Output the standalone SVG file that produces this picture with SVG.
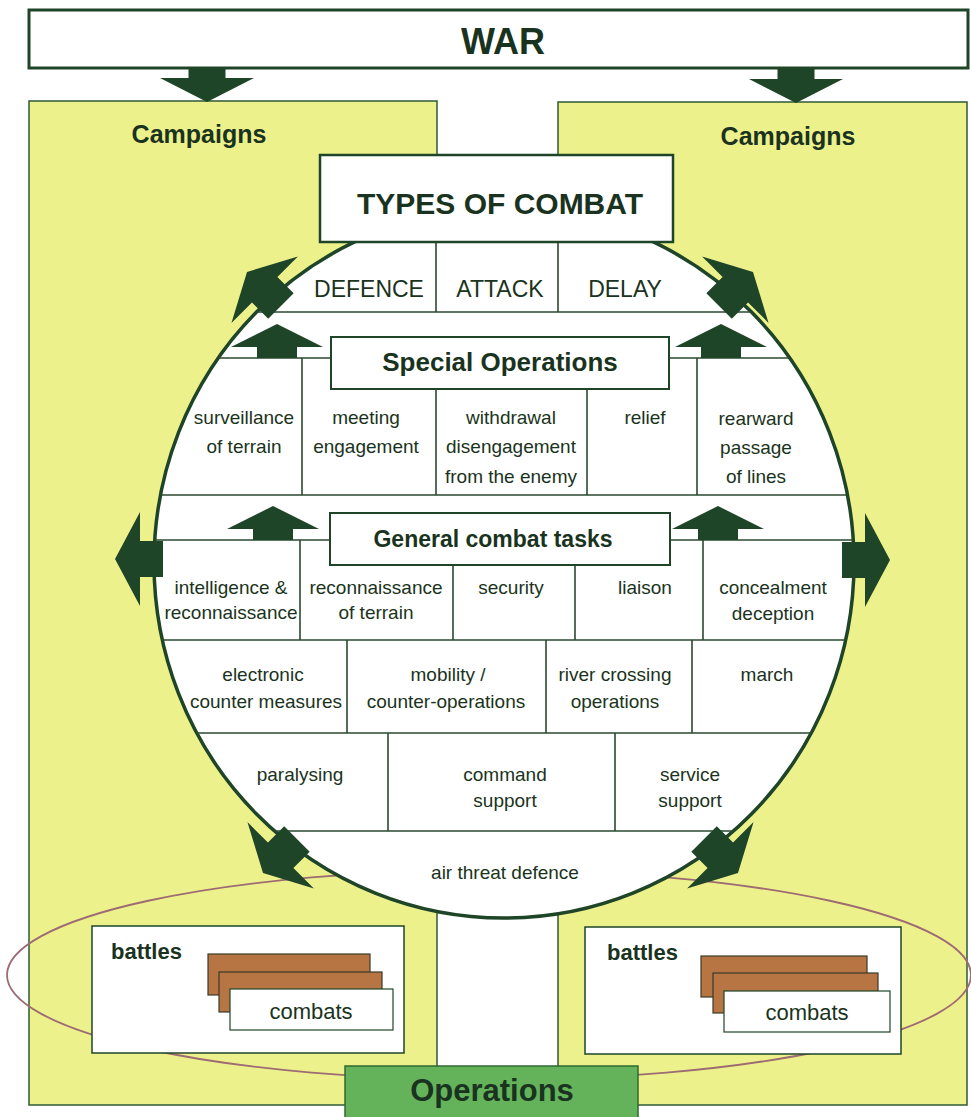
<svg xmlns="http://www.w3.org/2000/svg" width="971" height="1117" viewBox="0 0 971 1117">
<defs>
<style>
.t{font-family:"Liberation Sans",Arial,sans-serif;fill:#1a3320;text-anchor:middle}
.b{font-weight:bold}
.c{font-size:19px}
.ln{stroke:#2a4a30;stroke-width:1.6;fill:none}
.arr{fill:#1e4527}
.box{fill:#fff;stroke:#1e4527}
.panel{fill:#edf18c;stroke:#2f5a34;stroke-width:1.5}
.brown{fill:#b67542;stroke:#3a3a2a;stroke-width:1.2}
</style>
<clipPath id="cc"><ellipse cx="504" cy="563" rx="350" ry="355"/></clipPath>
<path id="oa" d="M0,0 L25,-47 L25,-18 L48,-18 L48,18 L25,18 L25,47 Z"/>
<path id="ua" d="M0,0 L46,23 L20,23 L20,34 L-20,34 L-20,23 L-46,23 Z"/>
<path id="da" d="M0,0 L-47,-24 L-18.5,-24 L-18.5,-34 L18.5,-34 L18.5,-24 L47,-24 Z"/>
</defs>
<rect width="971" height="1117" fill="#fff"/>

<g id="campaigns-left">
<rect class="panel" x="29" y="101" width="408" height="1004"/>
<text class="t b" x="199" y="143" font-size="25">Campaigns</text>
</g>
<g id="campaigns-right">
<rect class="panel" x="558" y="102" width="409" height="1003"/>
<text class="t b" x="788" y="145" font-size="25">Campaigns</text>
</g>

<g id="operations-ellipse">
<ellipse cx="489" cy="975" rx="482" ry="105" fill="none" stroke="#9c6b73" stroke-width="1.8"/>
</g>

<g id="combat-circle">
<ellipse cx="504" cy="563" rx="350" ry="355" fill="#fff" stroke="#1e4527" stroke-width="3.5"/>
<g clip-path="url(#cc)">
<path class="ln" d="M100,312H900 M100,358H900 M100,495H900 M100,540H900 M100,640H900 M100,733H900 M100,831H900"/>
<path class="ln" d="M436,242V312 M558,242V312 M302,358V495 M436,389V495 M587,389V495 M697,358V495 M300,540V640 M453,565V640 M575,565V640 M703,540V640 M347,640V733 M546,640V733 M692,640V733 M388,733V831 M615,733V831"/>
</g>
</g>

<g id="types-row">
<text class="t" x="369" y="297" font-size="23">DEFENCE</text>
<text class="t" x="500" y="297" font-size="23">ATTACK</text>
<text class="t" x="625" y="297" font-size="23">DELAY</text>
</g>

<g id="special-cells">
<text class="t c" x="244" y="424">surveillance</text>
<text class="t c" x="244" y="453">of terrain</text>
<text class="t c" x="366" y="424">meeting</text>
<text class="t c" x="366" y="453">engagement</text>
<text class="t c" x="511" y="424">withdrawal</text>
<text class="t c" x="511" y="453">disengagement</text>
<text class="t c" x="511" y="483">from the enemy</text>
<text class="t c" x="645" y="424">relief</text>
<text class="t c" x="756" y="425">rearward</text>
<text class="t c" x="756" y="454">passage</text>
<text class="t c" x="756" y="483">of lines</text>
</g>

<g id="general-cells">
<text class="t c" x="231" y="594">intelligence &amp;</text>
<text class="t c" x="231" y="619">reconnaissance</text>
<text class="t c" x="376" y="594">reconnaissance</text>
<text class="t c" x="376" y="619">of terrain</text>
<text class="t c" x="511" y="594">security</text>
<text class="t c" x="645" y="594">liaison</text>
<text class="t c" x="773" y="594">concealment</text>
<text class="t c" x="773" y="620">deception</text>
<text class="t c" x="263" y="681">electronic</text>
<text class="t c" x="266" y="708">counter measures</text>
<text class="t c" x="448" y="681">mobility /</text>
<text class="t c" x="446" y="708">counter-operations</text>
<text class="t c" x="615" y="681">river crossing</text>
<text class="t c" x="615" y="708">operations</text>
<text class="t c" x="767" y="681">march</text>
<text class="t c" x="300" y="781">paralysing</text>
<text class="t c" x="505" y="781">command</text>
<text class="t c" x="505" y="807">support</text>
<text class="t c" x="690" y="781">service</text>
<text class="t c" x="690" y="807">support</text>
<text class="t c" x="505" y="879">air threat defence</text>
</g>

<g id="types-of-combat">
<rect class="box" x="320" y="155" width="353" height="87" stroke-width="2.5"/>
<text class="t b" x="500" y="214" font-size="30">TYPES OF COMBAT</text>
</g>

<g id="special-operations">
<rect class="box" x="331" y="337" width="338" height="52" stroke-width="2"/>
<text class="t b" x="500" y="371" font-size="26">Special Operations</text>
</g>

<g id="general-combat-tasks">
<rect class="box" x="330" y="513" width="340" height="52" stroke-width="2"/>
<text class="t b" x="493" y="547" font-size="23">General combat tasks</text>
</g>

<g id="connectors">
<use href="#ua" class="arr" x="277" y="324"/>
<use href="#ua" class="arr" x="721" y="324"/>
<use href="#ua" class="arr" x="273" y="506"/>
<use href="#ua" class="arr" x="718" y="506"/>
<use href="#oa" class="arr" transform="translate(115,559)"/>
<use href="#oa" class="arr" transform="translate(890,560) rotate(180)"/>
<use href="#oa" class="arr" transform="translate(247,272) rotate(45)"/>
<use href="#oa" class="arr" transform="translate(753,272) rotate(135)"/>
<use href="#oa" class="arr" transform="translate(263,873) rotate(-45)"/>
<use href="#oa" class="arr" transform="translate(738,873) rotate(-135)"/>
<use href="#da" class="arr" x="207" y="102"/>
<use href="#da" class="arr" x="796" y="103"/>
</g>

<g id="war">
<rect class="box" x="29" y="10" width="939" height="58" stroke-width="3"/>
<text class="t b" x="503" y="54" font-size="36">WAR</text>
</g>

<g id="battles-left">
<rect class="box" x="92" y="926" width="312" height="127" stroke-width="1.5"/>
<text class="t b" x="111" y="959" font-size="22" style="text-anchor:start">battles</text>
<rect class="brown" x="208" y="954" width="162" height="41"/>
<rect class="brown" x="219" y="972" width="163" height="40"/>
<rect class="box" x="230" y="989" width="163" height="41" stroke-width="1.2"/>
<text class="t" x="311" y="1019" font-size="22">combats</text>
</g>

<g id="battles-right">
<rect class="box" x="585" y="927" width="316" height="127" stroke-width="1.5"/>
<text class="t b" x="607" y="960" font-size="22" style="text-anchor:start">battles</text>
<rect class="brown" x="701" y="956" width="166" height="41"/>
<rect class="brown" x="713" y="973" width="165" height="40"/>
<rect class="box" x="724" y="991" width="166" height="41" stroke-width="1.2"/>
<text class="t" x="807" y="1020" font-size="22">combats</text>
</g>

<g id="operations">
<rect x="345" y="1066" width="293" height="60" fill="#64b35a" stroke="#2f6a30" stroke-width="1.5"/>
<text class="t b" x="492" y="1101" font-size="31">Operations</text>
</g>
</svg>
